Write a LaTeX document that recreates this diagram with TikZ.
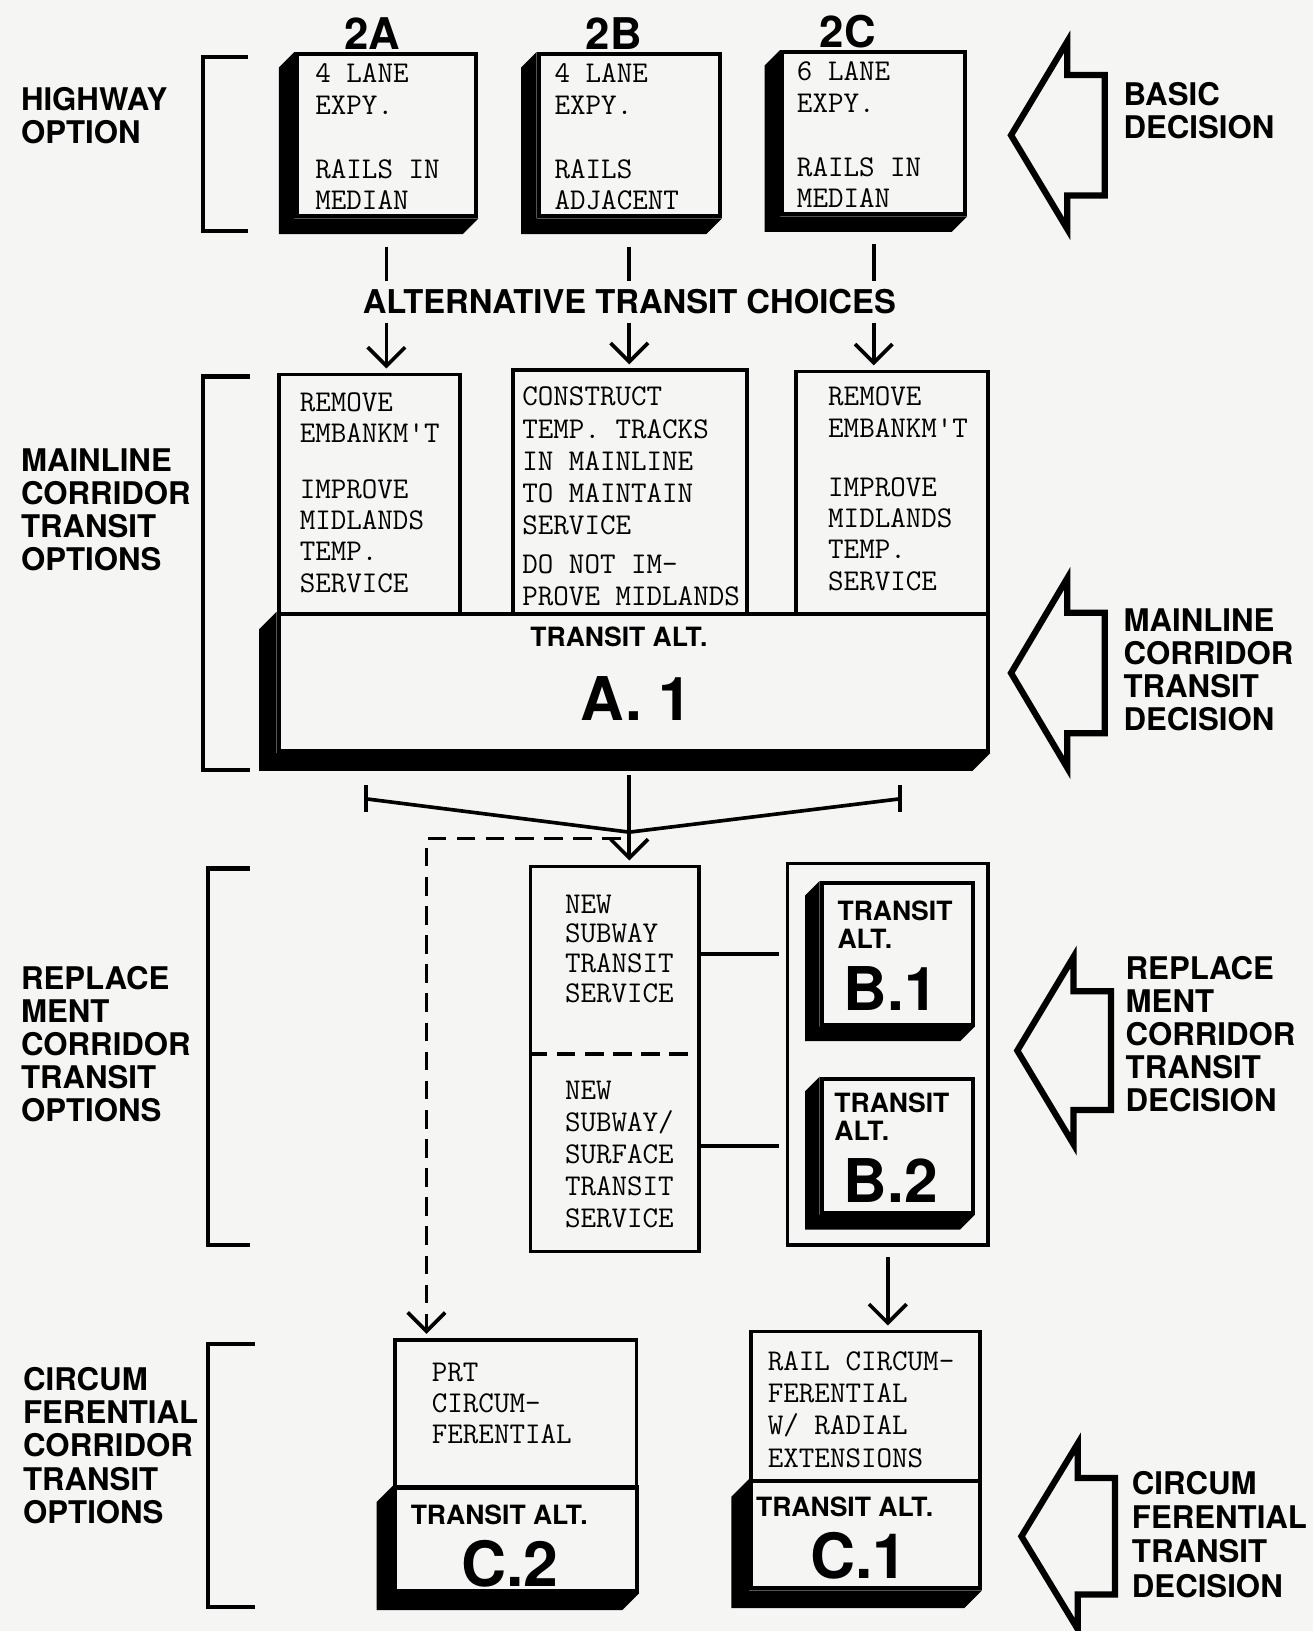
\documentclass[tikz,border=0pt]{standalone}
\usepackage{fontspec}
\usetikzlibrary{arrows.meta,positioning}
\newfontfamily\headfont{TeX Gyre Heros}
\definecolor{paper}{RGB}{245,245,243}

% black drop shadow, pushed down-left from a face node
\newcommand{\castshadow}[2]{%
  \fill (#1.north west) -- ++(-#2,#2) -- ([shift={(-#2,#2)}]#1.south west)
    -- ([shift={(-#2,#2)}]#1.south east) -- (#1.south east) -- (#1.south west) -- cycle;}
% hollow arrow pointing left: tip x, tip y, head half height, shaft half height
\newcommand{\decisionarrow}[4]{%
  \draw[decision] (#1,#2) -- ({#1+54},{#2-#3}) -- ({#1+54},{#2-#4}) -- ({#1+90},{#2-#4})
    -- ({#1+90},{#2+#4}) -- ({#1+54},{#2+#4}) -- ({#1+54},{#2+#3}) -- cycle;}

\tikzset{
  facebox/.style={draw, fill=paper, line width=4pt, inner sep=0pt},
  optbox/.style={draw, fill=paper, line width=3.5pt, inner sep=0pt},
  headlabel/.style={font=\headfont\bfseries\fontsize{30}{#1}\selectfont, align=left, inner sep=0pt, anchor=north west},
  headlabel/.default=31.7,
  colhead/.style={font=\headfont\bfseries\fontsize{42}{42}\selectfont, inner sep=0pt},
  typetext/.style={font=\ttfamily\fontsize{29}{#1}\selectfont, align=left, inner sep=0pt, anchor=north west},
  typetext/.default=31,
  altlabel/.style={font=\headfont\bfseries\fontsize{25.5}{27}\selectfont, inner sep=0pt},
  altname/.style={font=\headfont\bfseries\fontsize{#1}{#1}\selectfont, inner sep=0pt, anchor=west},
  altname/.default=58,
  bracket/.style={line width=4pt},
  link/.style={line width=3.5pt},
  flow/.style={link, -{Straight Barb[length=18pt,width=36pt]}, shorten >=4pt},
  dashlink/.style={flow, dash pattern=on 18pt off 10pt},
  decision/.style={line width=6pt, line join=miter},
}

\begin{document}
\begin{tikzpicture}[x=1pt, y=-1pt]
    \fill[paper] (0,0) rectangle (1262,1568);
    \useasboundingbox (0,0) rectangle (1262,1568);

    % highway options
    \node[colhead] (colA) at (358,32) {2A};
    \node[colhead] (colB) at (590,32) {2B};
    \node[colhead] (colC) at (815,30) {2C};

    \node[facebox, minimum width=173, minimum height=156] (hwA) at (371.5,130) {};
    \castshadow{hwA}{15}
    \node[facebox, minimum width=174, minimum height=156] (hwB) at (605,130) {};
    \castshadow{hwB}{15}
    \node[facebox, minimum width=176, minimum height=156] (hwC) at (840,128) {};
    \castshadow{hwC}{15}
    \node[typetext=30.5] (hwAtext) at (303,61) {4 LANE\\EXPY.\\[31pt]RAILS IN\\MEDIAN};
    \node[typetext=30.5] (hwBtext) at (533,61) {4 LANE\\EXPY.\\[31pt]RAILS\\ADJACENT};
    \node[typetext=30.5] (hwCtext) at (766,59) {6 LANE\\EXPY.\\[31pt]RAILS IN\\MEDIAN};

    \node[headlabel, font=\headfont\bfseries\fontsize{31.5}{32}\selectfont, inner ysep=8pt, anchor=center] (altchoice) at (605,290) {ALTERNATIVE TRANSIT CHOICES};

    % mainline corridor
    \node[optbox, minimum width=174, minimum height=230] (mlA) at (355,475) {};
    \node[optbox, minimum width=225, minimum height=234] (mlB) at (605.5,473) {};
    \node[optbox, minimum width=185, minimum height=233] (mlC) at (857.5,473.5) {};
    \node[facebox, minimum width=682, minimum height=132] (altA) at (609,656) {};
    \castshadow{altA}{17}
    \node[typetext=30] (mlAtext) at (288,377) {REMOVE\\EMBANKM\textquotesingle T\\[24pt]IMPROVE\\MIDLANDS\\TEMP.\\SERVICE};
    \node[typetext] (mlBtext) at (502,372) {CONSTRUCT\\TEMP. TRACKS\\IN MAINLINE\\TO MAINTAIN\\SERVICE\\[6pt]DO NOT IM-\\PROVE MIDLANDS};
    \node[typetext=30] (mlCtext) at (796,372) {REMOVE\\EMBANKM\textquotesingle T\\[27pt]IMPROVE\\MIDLANDS\\TEMP.\\SERVICE};
    \node[altlabel] (altAhead) at (595,612) {TRANSIT ALT.};
    \node[altname] (altAname) at (558,672) {A. 1};

    \draw[link] ([shift={(0,27)}]hwA.south) -- (hwA.south |- altchoice.north);
    \draw[link] ([shift={(0,27)}]hwB.south) -- (hwB.south |- altchoice.north);
    \draw[link] ([shift={(0,27)}]hwC.south) -- (hwC.south |- altchoice.north);
    \draw[flow] (hwA.south |- altchoice.south) -- (hwA.south |- mlA.north);
    \draw[flow] (hwB.south |- altchoice.south) -- (hwB.south |- mlB.north);
    \draw[flow] (hwC.south |- altchoice.south) -- (hwC.south |- mlC.north);

    % merge below A.1
    \coordinate (stem) at (605,745);
    \coordinate (meet) at (605,800);
    \coordinate (tickL) at (352,768);
    \coordinate (tickR) at (865,768);
    \draw[link] ([shift={(0,-13)}]tickL) -- ([shift={(0,13)}]tickL);
    \draw[link] ([shift={(0,-13)}]tickR) -- ([shift={(0,13)}]tickR);
    \draw[link] (tickL) -- (meet) -- (tickR);

    % replacement corridor
    \node[optbox, minimum width=162, minimum height=370] (nsBox) at (591,1018) {};
    \draw[link, dash pattern=on 18pt off 9pt] ([shift={(0,-5)}]nsBox.west) -- ([shift={(0,-5)}]nsBox.east);
    \node[typetext=28.5] (nsText) at (543,860) {NEW\\SUBWAY\\TRANSIT\\SERVICE};
    \node[typetext=30.75] (nssText) at (543,1039) {NEW\\SUBWAY/\\SURFACE\\TRANSIT\\SERVICE};

    \node[optbox, minimum width=193, minimum height=367] (bOuter) at (853.5,1013.5) {};
    \node[facebox, minimum width=145, minimum height=136] (bOne) at (862.5,917) {};
    \castshadow{bOne}{14}
    \node[altlabel, align=left, anchor=north west] (bOnehead) at (805,866) {TRANSIT\\ALT.};
    \node[altname] (bOnename) at (811,950) {B.1};
    \node[facebox, minimum width=145, minimum height=129] (bTwo) at (862.5,1101.5) {};
    \castshadow{bTwo}{14}
    \node[altlabel, align=left, anchor=north west] (bTwohead) at (802,1050) {TRANSIT\\ALT.};
    \node[altname] (bTwoname) at (811,1135) {B.2};

    \draw[link, shorten >=6pt] (nsBox.east |- bOne.west) -- (bOuter.west |- bOne.west);
    \draw[link, shorten >=6pt] (nsBox.east |- bTwo.west) -- (bOuter.west |- bTwo.west);

    % circumferential corridor
    \node[optbox, minimum width=232, minimum height=142] (prtBox) at (496,1359) {};
    \node[facebox, minimum width=232, minimum height=100] (cTwo) at (496,1480) {};
    \castshadow{cTwo}{16}
    \node[typetext=30] (prtText) at (415,1310) {PRT\\CIRCUM-\\FERENTIAL};
    \node[altlabel] (cTwohead) at (480,1456) {TRANSIT ALT.};
    \node[altname=60] (cTwoname) at (443,1503) {C.2};

    \node[optbox, minimum width=220, minimum height=144] (railBox) at (832,1352) {};
    \node[facebox, minimum width=220, minimum height=103] (cOne) at (832,1475.5) {};
    \castshadow{cOne}{17}
    \node[typetext] (railText) at (738,1299) {RAIL CIRCUM-\\FERENTIAL\\W/ RADIAL\\EXTENSIONS};
    \node[altlabel] (cOnehead) at (812,1449) {TRANSIT ALT.};
    \node[altname=60] (cOnename) at (779,1496) {C.1};

    \draw[flow] (stem) -- (stem |- nsBox.north);
    \coordinate (dashstart) at (597,806);
    \coordinate (dashturn) at (410,806);
    \draw[dashlink] (dashstart) -- (dashturn) -- (dashturn |- prtBox.north);
    \draw[flow] ([shift={(0,10)}]bOuter.south) -- (bOuter.south |- railBox.north);

    % brackets and option labels
    \draw[bracket] (238,55) -- (195,55) -- (195,222) -- (238,222);
    \draw[bracket] (240,362) -- (195,362) -- (195,740) -- (240,740);
    \draw[bracket] (240,835) -- (200,835) -- (200,1197) -- (240,1197);
    \draw[bracket] (245,1292) -- (200,1292) -- (200,1545) -- (245,1545);
    \node[headlabel] (hwOpt) at (20,84) {HIGHWAY\\OPTION};
    \node[headlabel] (mlOpt) at (20,431) {MAINLINE\\CORRIDOR\\TRANSIT\\OPTIONS};
    \node[headlabel] (rpOpt) at (20,929) {REPLACE\\MENT\\CORRIDOR\\TRANSIT\\OPTIONS};
    \node[headlabel=32] (cirOpt) at (22,1314) {CIRCUM\\FERENTIAL\\CORRIDOR\\TRANSIT\\OPTIONS};

    % decision arrows
    \decisionarrow{972}{130}{90}{58}
    \node[headlabel] (basicDec) at (1080,79) {BASIC\\DECISION};
    \decisionarrow{972}{647}{91}{58}
    \node[headlabel] (mlDec) at (1080,585) {MAINLINE\\CORRIDOR\\TRANSIT\\DECISION};
    \decisionarrow{978}{1010}{90}{57}
    \node[headlabel] (rpDec) at (1082,919) {REPLACE\\MENT\\CORRIDOR\\TRANSIT\\DECISION};
    \decisionarrow{982}{1477}{89}{56}
    \node[headlabel=33] (cirDec) at (1088,1414) {CIRCUM\\FERENTIAL\\TRANSIT\\DECISION};
\end{tikzpicture}
\end{document}
